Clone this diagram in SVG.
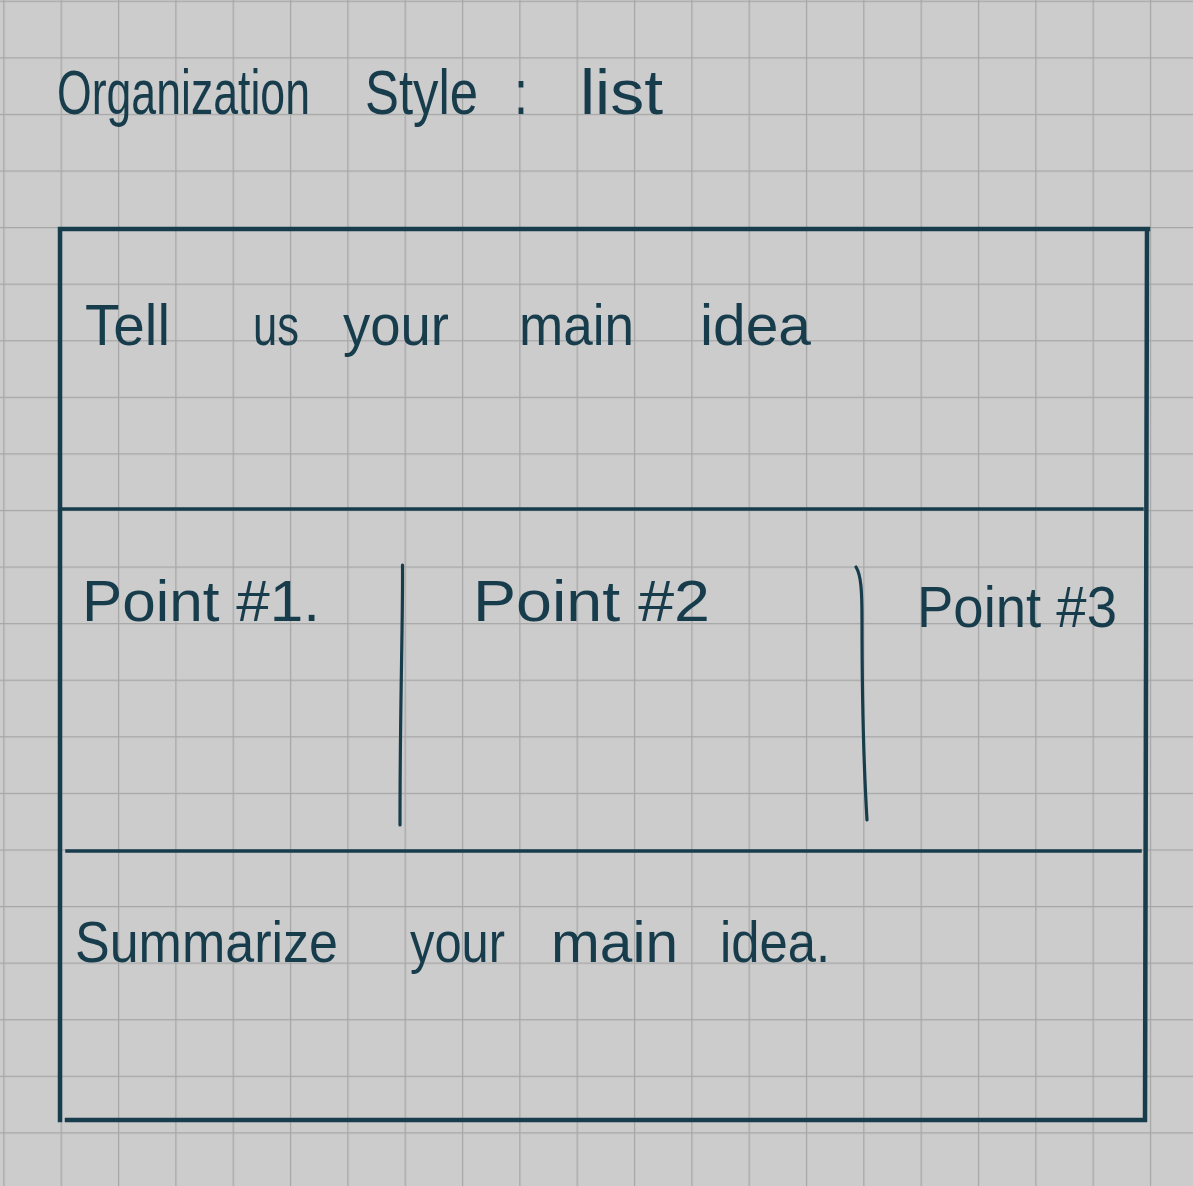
<svg xmlns="http://www.w3.org/2000/svg" width="1193" height="1186" viewBox="0 0 1193 1186">
  <defs>
    <pattern id="grid" x="3.3" y="0.7" width="57.33" height="56.58" patternUnits="userSpaceOnUse">
      <path d="M0.6 0 V56.58 M0 0.6 H57.33" fill="none" stroke="#a6a6a6" stroke-width="1.3"/>
    </pattern>
  </defs>
  <style>
    .ink { fill: #173c4c; font-family: "Liberation Sans", "DejaVu Sans", sans-serif; }
    .title { font-size: 46px; }
    .body { font-size: 58px; }
    .frame { fill: none; stroke: #173c4c; stroke-linecap: square; }
    .thick { stroke-width: 4.5; }
    .thin { stroke-width: 3.5; }
    .div { fill: none; stroke: #173c4c; stroke-width: 3.2; stroke-linecap: round; }
  </style>
  <rect width="1193" height="1186" fill="#cccccc"/>
  <rect width="1193" height="1186" fill="url(#grid)"/>

  <g id="title" transform="translate(0,114) scale(1,1.35)">
    <text class="ink title" y="0">
      <tspan x="57" textLength="253" lengthAdjust="spacingAndGlyphs">Organization</tspan>
      <tspan x="365" textLength="113" lengthAdjust="spacingAndGlyphs">Style</tspan>
      <tspan x="514" textLength="14" lengthAdjust="spacingAndGlyphs">:</tspan>
      <tspan x="580" textLength="83" lengthAdjust="spacingAndGlyphs">list</tspan>
    </text>
  </g>

  <g id="frame">
    <path class="frame thick" d="M60 229 H1148 M60 229 V1120 M1147 229 L1145 1120 M67 1120 H1145"/>
  </g>

  <g id="connectors">
    <path class="frame thin" d="M61 509 H1142"/>
    <path class="frame thin" d="M67 851 H1140"/>
    <path class="div" d="M402.5 565 C403 620 400 700 400 825"/>
    <path class="div" d="M856 567 C861 575 862 590 862 620 C862 700 864 770 867 820"/>
  </g>

  <g id="main-idea">
    <text class="ink body" y="345">
      <tspan x="85" textLength="85" lengthAdjust="spacingAndGlyphs">Tell</tspan>
      <tspan x="253" textLength="46" lengthAdjust="spacingAndGlyphs">us</tspan>
      <tspan x="343" textLength="106" lengthAdjust="spacingAndGlyphs">your</tspan>
      <tspan x="519" textLength="115" lengthAdjust="spacingAndGlyphs">main</tspan>
      <tspan x="700" textLength="111" lengthAdjust="spacingAndGlyphs">idea</tspan>
    </text>
  </g>

  <g id="point-1">
    <text class="ink body" x="82" y="621" textLength="238" lengthAdjust="spacingAndGlyphs">Point #1.</text>
  </g>
  <g id="point-2">
    <text class="ink body" x="473" y="621" textLength="237" lengthAdjust="spacingAndGlyphs">Point #2</text>
  </g>
  <g id="point-3">
    <text class="ink body" x="917" y="627" textLength="200" lengthAdjust="spacingAndGlyphs">Point #3</text>
  </g>

  <g id="summary">
    <text class="ink body" y="962">
      <tspan x="75" textLength="263" lengthAdjust="spacingAndGlyphs">Summarize</tspan>
      <tspan x="410" textLength="95" lengthAdjust="spacingAndGlyphs">your</tspan>
      <tspan x="551" textLength="127" lengthAdjust="spacingAndGlyphs">main</tspan>
      <tspan x="720" textLength="110" lengthAdjust="spacingAndGlyphs">idea.</tspan>
    </text>
  </g>
</svg>
